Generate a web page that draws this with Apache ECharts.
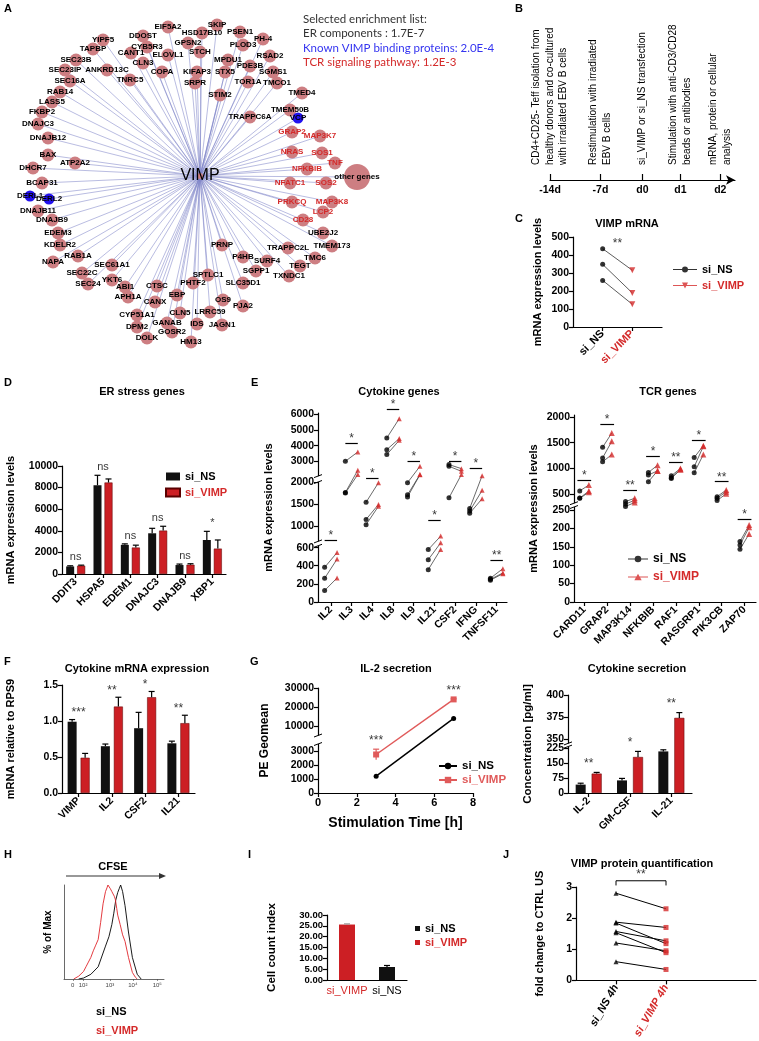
<!DOCTYPE html>
<html><head><meta charset="utf-8">
<script src="https://cdn.jsdelivr.net/npm/echarts@6.0.0/dist/echarts.min.js"></script>
<style>html,body{margin:0;padding:0;background:#fff}#c{width:759px;height:1041px}</style>
</head><body><div id="c"></div>
<script>
// ======================= DATA =======================
// A: network (layout units)
const netHub = ['VIMP', 200, 176];
const netER = [['YIPF5',103,40],['TAPBP',93,49],['SEC23B',76,60],['SEC23IP',65,70],['ANKRD13C',107,70],['SEC16A',70,81],['RAB14',60,92],['LASS5',52,102],['FKBP2',42,112],['DNAJC3',38,124],['DNAJB12',48,138],['BAX',48,155],['ATP2A2',75,163],['DHCR7',33,168],['BCAP31',42,183],['DNAJB11',38,211],['DNAJB9',52,220],['EDEM3',58,233],['KDELR2',60,245],['NAPA',53,262],['RAB1A',78,256],['SEC61A1',112,265],['SEC22C',82,273],['SEC24',88,284],['YKT6',112,280],['ABI1',125,287],['APH1A',128,297],['CTSC',157,286],['CANX',155,302],['EBP',177,295],['PHTF2',193,283],['SPTLC1',208,275],['CYP51A1',137,315],['CLN5',180,313],['DPM2',137,327],['GANAB',167,323],['GOSR2',172,332],['IDS',197,324],['DOLK',147,338],['HM13',191,342],['LRRC59',210,312],['OS9',223,300],['JAGN1',222,325],['PJA2',243,306],['SLC35D1',243,283],['SGPP1',256,271],['PRNP',222,245],['P4HB',243,257],['SURF4',267,261],['TXNDC1',289,276],['TEGT',300,266],['TMC6',315,258],['TRAPPC2L',288,248],['TMEM173',332,246],['UBE2J2',323,233],['CANT1',131,53],['DDOST',143,36],['CYB5R3',147,47],['CLN3',143,63],['TNRC5',130,80],['COPA',162,72],['ELOVL1',168,55],['EIF5A2',168,27],['GPSN2',188,43],['HSD17B10',202,33],['SKIP',217,25],['STCH',200,52],['KIFAP3',197,72],['SRPR',195,83],['STIM2',220,95],['MPDU1',228,60],['STX5',225,72],['PSEN1',240,32],['PH-4',263,39],['PLOD3',243,45],['RSAD2',270,56],['PDE3B',250,66],['SGMS1',273,72],['TOR1A',248,82],['TMCO1',277,83],['TMED4',302,93],['TRAPPC6A',250,117],['TMEM50B',290,110]];
const netKnown = [['DERL1',30,196],['DERL2',49,199],['VCP',298,118]];
const netTCR = [['GRAP2',292,132],['MAP3K7',320,136],['NRAS',292,152],['SOS1',322,153],['TNF',335,163],['NFKBIB',307,169],['NFATC1',290,183],['SOS2',326,183],['PRKCQ',292,202],['MAP3K8',332,202],['LCP2',323,212],['CD28',303,220]];
const netOther = ['other genes', 357, 177];
const enrichLines = ['Selected enrichment list:','ER components : 1.7E-7','Known VIMP binding proteins: 2.0E-4','TCR signaling pathway: 1.2E-3'];

// B: timeline
const bDays = ['-14d','-7d','d0','d1','d2'];
const bSteps = [['CD4+CD25- Teff isolation from','healthy donors and co-cultured','with irradiated EBV B cells'],['Restimulation with irradiated','EBV B cells'],['si_VIMP or si_NS transfection'],['Stimulation with anti-CD3/CD28','beads or antibodies'],['mRNA, protein or cellular','analysis']];

// C: VIMP mRNA (3 donors)
const cGroups = ['si_NS','si_VIMP'];
const cNS = [435, 348, 259];
const cVIMP = [315, 189, 126];
const cSig = '**';

// D: ER stress genes
const dCats = ['DDIT3','HSPA5','EDEM1','DNAJC3','DNAJB9','XBP1'];
const dNS = [700, 8220, 2700, 3770, 830, 3150];
const dNSsd = [60, 920, 90, 460, 90, 800];
const dVIMP = [770, 8470, 2450, 4020, 860, 2350];
const dVIMPsd = [50, 330, 220, 400, 90, 800];
const dSig = ['ns','ns','ns','ns','ns','*'];

// E: cytokine genes (3 donors each)
const eCats = ['IL2','IL3','IL4','IL8','IL9','IL21','CSF2','IFNG','TNFSF11'];
const eNS = [[382,262,127],[3000,1760,1750],[1540,1150,1030],[4500,3750,3430],[1985,1710,1660],[578,467,357],[2790,2680,1640],[1400,1340,1290],[262,250,240]];
const eVIMP = [[545,473,265],[3600,2430,2150],[1985,1490,1450],[5740,4460,4350],[2680,2150,2140],[770,640,580],[2530,2360,2150],[2080,1810,1620],[368,320,313]];
const eBar = [668, 4180, 2035, 6320, 3000, 1123, 3000, 2530, 460];
const eSig = ['*','*','*','*','*','*','*','*','**'];
const eTicks = [0,200,400,600,1000,1500,2000,3000,4000,5000,6000];

// E: TCR genes
const tCats = ['CARD11','GRAP2','MAP3K14','NFKBIB','RAF1','RASGRP1','PIK3CB','ZAP70'];
const tNS = [[560,420,415],[1410,1203,1126],[352,306,268],[919,868,739],[855,816,803],[1210,1029,913],[448,416,371],[164,155,143]];
const tVIMP = [[674,558,532],[1687,1526,1268],[416,377,332],[1061,952,950],[997,977,975],[1442,1429,1268],[577,545,506],[209,203,185]];
const tBar = [771, 1868, 577, 1229, 1126, 1545, 739, 224];
const tSig = ['*','*','**','*','**','*','**','*'];
const tTicks = [0,50,100,150,200,250,500,1000,1500,2000];

// F: cytokine mRNA relative to RPS9
const fCats = ['VIMP','IL2','CSF2','IL21'];
const fNS = [0.99, 0.65, 0.90, 0.69];
const fNSsd = [0.03, 0.03, 0.22, 0.03];
const fVIMP = [0.49, 1.20, 1.33, 0.97];
const fVIMPsd = [0.06, 0.13, 0.08, 0.11];
const fSig = ['***','**','*','**'];

// G: IL-2 secretion
const gTime = [3, 7];
const gNS = [1200, 14000];
const gVIMP = [2750, 24000];
const gVIMPsd = [380, 300];
const gSig = ['***','***'];
const gTicks = [0,1000,2000,3000,10000,20000,30000];

// G: cytokine secretion
const sCats = ['IL-2','GM-CSF','IL-21'];
const sNS = [42, 63, 208];
const sNSsd = [7, 10, 8];
const sVIMP = [97, 180, 374];
const sVIMPsd = [6, 28, 6];
const sSig = ['**','*','**'];
const sTicks = [0,75,150,225,350,375,400];

// H: CFSE histograms (channel, % of max)
const hTickCh = [90, 195, 470, 705, 955];
const hTickLab = ['0','10\u00b2','10\u00b3','10\u2074','10\u2075'];
const hVIMPx = [100,150,200,225,250,275,300,325,350,375,400,425,440,450,465,475,490,500,515,525,540,550,575,600,625,660,700,730,750];
const hVIMPy = [0,3,8,13,18,23,30,36,42,60,80,93,97,100,99,96,93,94,88,85,75,68,58,47,40,23,7,2,0];
const hNSx = [150,200,275,350,425,460,490,510,530,550,565,580,600,625,660,700,750,790];
const hNSy = [0,1,5,13,35,45,58,70,84,92,96,100,93,78,50,23,5,0];

// I: cell count index
const iCats = ['si_VIMP','si_NS'];
const iMean = [25.6, 6.0];
const iSd = [0.3, 0.7];

// J: VIMP protein quantification (paired)
const jGroups = ['si_NS 4h','si_VIMP 4h'];
const jNS = [2.80, 1.87, 1.84, 1.57, 1.53, 1.20, 0.60];
const jVIMP = [2.30, 1.70, 1.18, 1.27, 0.89, 0.95, 0.35];
const jBracket = 3.2;
const jSig = '**';

// ======================= LAYOUT / STYLE =======================
const FONT = "'Liberation Sans', Arial, Helvetica, sans-serif";
const PINK = '#cd7e82', BLUE = '#2211ee', RED = '#d42a2a', BARRED = '#cc1f24', GRED = '#e05a5a', EDGE = '#7d82c8';
const bTickPos = [0, 1.2, 2.2, 3.1, 4.05];
const eAnch = [[0,0],[620,56.2],[650,60.6],[2000,120],[2050,125.9],[6000,187.4]];
const tAnch = [[0,0],[258,95],[320,98.8],[2000,185]];
const gAnch = [[0,0],[3500,49],[5000,57.5],[30000,105]];
const sAnch = [[0,0],[232,46.4],[345,49.6],[400,98]];

const grid = [], xAxis = [], yAxis = [], series = [], legend = [], graphic = [];
function deep(a, b) { const o = Object.assign({}, a); for (const k in b) { const v = b[k]; if (v && typeof v === 'object' && !Array.isArray(v) && o[k] && typeof o[k] === 'object' && !Array.isArray(o[k])) o[k] = deep(o[k], v); else o[k] = v; } return o; }
function addGrid(r) { grid.push(r); return grid.length - 1; }
function addX(o) { xAxis.push(o); return xAxis.length - 1; }
function addY(o) { yAxis.push(o); return yAxis.length - 1; }
function ax(extra) { return deep({
  axisLine: { show: true, onZero: false, lineStyle: { color: '#000', width: 1.2 } },
  axisTick: { show: true, length: 4, lineStyle: { color: '#000', width: 1.2 } },
  axisLabel: { color: '#000', fontFamily: FONT, fontWeight: 'bold', fontSize: 10, margin: 4 },
  splitLine: { show: false },
  nameLocation: 'middle',
  nameTextStyle: { color: '#000', fontFamily: FONT, fontWeight: 'bold', fontSize: 11 }
}, extra); }
const plain = v => String(v);
function nearestIdx(arr, v) { let b = 0, bd = Infinity; arr.forEach((a, i) => { const d = Math.abs(a - v); if (d < bd) { bd = d; b = i; } }); return b; }
function pw(anch) { return v => { let i = 0; while (i < anch.length - 2 && v > anch[i + 1][0]) i++; const a = anch[i], b = anch[i + 1]; return a[1] + (v - a[0]) * (b[1] - a[1]) / (b[0] - a[0]); }; }
function brokenY(gi, anch, ticks, h, extra) {
  const f = pw(anch); const d = ticks.map(f);
  const idx = addY(ax(deep({ gridIndex: gi, type: 'value', min: 0, max: h,
    axisTick: { customValues: d }, axisLabel: { customValues: d, formatter: v => String(ticks[nearestIdx(d, v)]) } }, extra || {})));
  return { idx, f };
}
const ident = v => v;
function errSeries(xi, yi, xs, lo, hi, off, color) {
  series.push({ type: 'custom', xAxisIndex: xi, yAxisIndex: yi, z: 5, silent: true, clip: false,
    data: xs.map((x, i) => [x, lo[i], hi[i]]),
    renderItem: (p, api) => { const a = api.coord([api.value(0), api.value(1)]), b = api.coord([api.value(0), api.value(2)]); const x = a[0] + off;
      return { type: 'group', children: [
        { type: 'line', shape: { x1: x, y1: a[1], x2: x, y2: b[1] }, style: { stroke: color, lineWidth: 1.2 } },
        { type: 'line', shape: { x1: x - 3, y1: b[1], x2: x + 3, y2: b[1] }, style: { stroke: color, lineWidth: 1.2 } }] }; } });
}
function sigLabels(xi, yi, xs, ys, texts, dist, fs) {
  series.push({ type: 'scatter', xAxisIndex: xi, yAxisIndex: yi, silent: true, symbolSize: 1, clip: false,
    itemStyle: { color: 'rgba(0,0,0,0)' }, z: 6,
    data: xs.map((x, i) => ({ value: [x, ys[i]], label: { formatter: texts[i] } })),
    label: { show: true, position: 'top', distance: dist, color: '#000', fontFamily: FONT, fontSize: fs || 12 } });
}
function groupBars(xi, yi, names, ns, nsSd, vi, viSd, f, bw, gap) {
  const pct = (gap / bw * 100) + '%';
  series.push({ type: 'bar', name: names[0], xAxisIndex: xi, yAxisIndex: yi, data: ns.map(f), barWidth: bw, barGap: pct, itemStyle: { color: '#111' }, z: 2 });
  series.push({ type: 'bar', name: names[1], xAxisIndex: xi, yAxisIndex: yi, data: vi.map(f), barWidth: bw, barGap: pct, itemStyle: { color: BARRED, borderColor: '#5a0000', borderWidth: 0.5 }, z: 2 });
  const off = bw / 2 + gap / 2; const xs = ns.map((_, i) => i);
  errSeries(xi, yi, xs, ns.map(f), ns.map((v, i) => f(v + nsSd[i])), -off, '#000');
  errSeries(xi, yi, xs, vi.map(f), vi.map((v, i) => f(v + viSd[i])), off, '#000');
}
function pairs(xi, yi, nsList, viList, base, off, f, o) {
  const conn = [], ns = [], vi = [];
  nsList.forEach((arr, i) => arr.forEach((v, k) => { const a = [base + i - off, f(v)], b = [base + i + off, f(viList[i][k])]; conn.push({ coords: [a, b] }); ns.push(a); vi.push(b); }));
  series.push({ type: 'lines', coordinateSystem: 'cartesian2d', xAxisIndex: xi, yAxisIndex: yi, silent: true, z: 2, clip: false, data: conn, lineStyle: { color: o.lineColor || '#444', width: o.lineWidth || 0.8, opacity: 1 } });
  series.push({ type: 'scatter', name: o.nsName, xAxisIndex: xi, yAxisIndex: yi, z: 3, clip: false, data: ns, symbol: o.nsSymbol || 'circle', symbolSize: o.nsSize || 5, itemStyle: { color: '#000' } });
  series.push({ type: 'scatter', name: o.viName, xAxisIndex: xi, yAxisIndex: yi, z: 4, clip: false, data: vi, symbol: o.viSymbol || 'triangle', symbolRotate: o.viRotate || 0, symbolSize: o.viSize || 5, itemStyle: { color: o.viColor || RED } });
}
function sigBars(xi, yi, vals, half, f) {
  series.push({ type: 'lines', coordinateSystem: 'cartesian2d', xAxisIndex: xi, yAxisIndex: yi, silent: true, clip: false, z: 2,
    data: vals.map((v, i) => ({ coords: [[i - half, f(v)], [i + half, f(v)]] })), lineStyle: { color: '#000', width: 1.2, opacity: 1 } });
}
function txt(id, x, y, text, o) {
  graphic.push(Object.assign({ type: 'text', id, x, y, silent: true, z: 100,
    style: Object.assign({ text, fill: '#000', font: 'bold 11px ' + FONT, textAlign: 'center', textVerticalAlign: 'middle', align: 'center', verticalAlign: 'middle' }, o && o.style || {}) }, o && o.el || {}));
}
const legText = { fontFamily: FONT, fontWeight: 'bold', fontSize: 11, color: '#000' };
const ICON_DOT_LINE = 'path://M0,2.4H24V3.6H0Z M9,3A3,3,0,1,1,15,3A3,3,0,1,1,9,3Z';
const ICON_TRI_DOWN_LINE = 'path://M0,2.4H24V3.6H0Z M9,0H15L12,6Z';
const ICON_BIGDOT_LINE = 'path://M0,4.4H30V5.6H0Z M10,5A5,5,0,1,1,20,5A5,5,0,1,1,10,5Z';
const ICON_BIGTRI_LINE = 'path://M0,4.4H30V5.6H0Z M9.5,10L15,0L20.5,10Z';

// ---------- A: network ----------
const gA = addGrid({ left: 0, top: 0, width: 440, height: 350 });
const xA = addX({ gridIndex: gA, type: 'value', min: 0, max: 440, show: false });
const yA = addY({ gridIndex: gA, type: 'value', min: 0, max: 350, inverse: true, show: false });
const nodes = [{ name: netHub[0], value: [netHub[1], netHub[2]], symbolSize: 6, label: { fontSize: 16, fontWeight: 'normal' } }];
netER.forEach(n => nodes.push({ name: n[0], value: [n[1], n[2]] }));
netKnown.forEach(n => nodes.push({ name: n[0], value: [n[1], n[2]], symbolSize: 11, itemStyle: { color: BLUE } }));
netTCR.forEach(n => nodes.push({ name: n[0], value: [n[1], n[2]], label: { color: RED } }));
nodes.push({ name: netOther[0], value: [netOther[1], netOther[2]], symbolSize: 26 });
series.push({ type: 'graph', coordinateSystem: 'cartesian2d', xAxisIndex: xA, yAxisIndex: yA, layout: 'none', silent: true, z: 2,
  symbolSize: 13, itemStyle: { color: PINK }, data: nodes,
  links: nodes.slice(1).map(n => ({ source: netHub[0], target: n.name })),
  lineStyle: { color: EDGE, width: 0.6, opacity: 0.9 },
  label: { show: true, position: 'inside', fontFamily: FONT, fontSize: 8, fontWeight: 'bold', color: '#000' } });
const enrichColors = ['#333', '#333', '#3434f0', '#d42a2a'];
enrichLines.forEach((t, i) => txt('en' + i, 303, 19 + i * 14.5, t, { style: { textAlign: 'left', align: 'left', fill: enrichColors[i], font: '11.5px Lato, ' + FONT } }));

// ---------- B: timeline ----------
const gB = addGrid({ left: 550, top: 170, width: 185, height: 10 });
const xB = addX(ax({ gridIndex: gB, type: 'value', min: 0, max: 4.4, position: 'bottom',
  axisLine: { symbol: ['none', 'arrow'], symbolSize: [7, 9] },
  axisTick: { inside: true, length: 6, customValues: bTickPos },
  axisLabel: { customValues: bTickPos, formatter: v => bDays[nearestIdx(bTickPos, v)], fontSize: 10.5, margin: 5 } }));
const yB = addY({ gridIndex: gB, type: 'value', min: 0, max: 1, show: false });

// ---------- C ----------
const gC = addGrid({ left: 573, top: 237, width: 89, height: 90 });
const xC = addX(ax({ gridIndex: gC, type: 'value', min: 0, max: 3, axisTick: { customValues: [1, 2] },
  axisLabel: { customValues: [1, 2], rotate: 45, fontSize: 11, margin: 5, formatter: v => Math.round(v) === 1 ? '{n|' + cGroups[0] + '}' : '{v|' + cGroups[1] + '}',
    rich: { n: { color: '#000', fontWeight: 'bold', fontSize: 11, fontFamily: FONT }, v: { color: RED, fontWeight: 'bold', fontSize: 11, fontFamily: FONT } } } }));
const yC = addY(ax({ gridIndex: gC, type: 'value', min: 0, max: 500, interval: 100, name: 'mRNA expression levels', nameGap: 30, axisLabel: { fontSize: 10.5, formatter: plain } }));
pairs(xC, yC, [cNS], [cVIMP], 1.5, 0.5, ident, { nsName: 'C:si_NS', viName: 'C:si_VIMP', viRotate: 180, viSize: 6, lineColor: '#333' });
sigLabels(xC, yC, [1.5], [Math.max(...cNS)], [cSig], -1, 12);
legend.push({ left: 668, top: 259, orient: 'vertical', itemGap: 5, itemWidth: 24, itemHeight: 6, selectedMode: false, textStyle: legText,
  formatter: n => n.split(':')[1],
  data: [{ name: 'C:si_NS', icon: ICON_DOT_LINE }, { name: 'C:si_VIMP', icon: ICON_TRI_DOWN_LINE, textStyle: { color: RED } }] });

// ---------- D ----------
const gD = addGrid({ left: 62, top: 466, width: 164, height: 108 });
const xD = addX(ax({ gridIndex: gD, type: 'category', data: dCats, axisTick: { alignWithLabel: true }, axisLabel: { rotate: 45, interval: 0, fontSize: 10.5, margin: 6 } }));
const yD = addY(ax({ gridIndex: gD, type: 'value', min: 0, max: 10000, interval: 2000, name: 'mRNA expression levels', nameGap: 46, axisLabel: { fontSize: 10.5, formatter: plain } }));
groupBars(xD, yD, ['D:si_NS', 'D:si_VIMP'], dNS, dNSsd, dVIMP, dVIMPsd, ident, 8, 3);
sigLabels(xD, yD, dCats.map((_, i) => i), dCats.map((_, i) => Math.max(dNS[i] + dNSsd[i], dVIMP[i] + dVIMPsd[i])), dSig, 2, 11);
legend.push({ left: 160, top: 466, orient: 'vertical', itemGap: 5, itemWidth: 14, itemHeight: 8, selectedMode: false, textStyle: legText,
  formatter: n => n.split(':')[1], data: [{ name: 'D:si_NS', icon: 'rect' }, { name: 'D:si_VIMP', icon: 'rect', textStyle: { color: RED } }] });

// ---------- E cytokine ----------
const gE = addGrid({ left: 318, top: 413, width: 189, height: 189 });
const xE = addX(ax({ gridIndex: gE, type: 'value', min: -0.62, max: 8.5, axisTick: { customValues: eCats.map((_, i) => i) },
  axisLabel: { customValues: eCats.map((_, i) => i), formatter: v => eCats[Math.round(v)], rotate: 45, fontSize: 10.5, margin: 6 } }));
const yE = brokenY(gE, eAnch, eTicks, 189, { name: 'mRNA expression levels', nameGap: 44, axisLabel: { fontSize: 10.5 } });
sigBars(xE, yE.idx, eBar, 0.3, yE.f);
pairs(xE, yE.idx, eNS, eVIMP, 0, 0.3, yE.f, { nsName: 'E:si_NS', viName: 'E:si_VIMP', nsSize: 5, viSize: 5 });
sigLabels(xE, yE.idx, eCats.map((_, i) => i), eBar.map(yE.f), eSig, -2, 12);

// ---------- E TCR ----------
const gT = addGrid({ left: 574, top: 415, width: 182, height: 187 });
const xT = addX(ax({ gridIndex: gT, type: 'value', min: -0.45, max: 7.5, axisTick: { customValues: tCats.map((_, i) => i) },
  axisLabel: { customValues: tCats.map((_, i) => i), formatter: v => tCats[Math.round(v)], rotate: 45, fontSize: 10.5, margin: 6 } }));
const yT = brokenY(gT, tAnch, tTicks, 187, { name: 'mRNA expression levels', nameGap: 35, axisLabel: { fontSize: 10.5 } });
sigBars(xT, yT.idx, tBar, 0.3, yT.f);
pairs(xT, yT.idx, tNS, tVIMP, 0, 0.2, yT.f, { nsName: 'T:si_NS', viName: 'T:si_VIMP', nsSize: 5, viSize: 6 });
sigLabels(xT, yT.idx, tCats.map((_, i) => i), tBar.map(yT.f), tSig, -2, 12);
legend.push({ left: 623, top: 548, orient: 'vertical', itemGap: 6, itemWidth: 20, itemHeight: 8, selectedMode: false,
  textStyle: deep(legText, { fontSize: 12 }), formatter: n => n.split(':')[1],
  data: [{ name: 'T:si_NS', icon: ICON_BIGDOT_LINE }, { name: 'T:si_VIMP', icon: ICON_BIGTRI_LINE, textStyle: { color: RED } }] });

// ---------- F ----------
const gF = addGrid({ left: 62, top: 685, width: 133, height: 108 });
const xF = addX(ax({ gridIndex: gF, type: 'category', data: fCats, axisTick: { alignWithLabel: true }, axisLabel: { rotate: 45, interval: 0, fontSize: 10.5, margin: 6 } }));
const yF = addY(ax({ gridIndex: gF, type: 'value', min: 0, max: 1.5, interval: 0.5, name: 'mRNA relative to RPS9', nameGap: 46, axisLabel: { fontSize: 10.5, formatter: v => v.toFixed(1) } }));
groupBars(xF, yF, ['F:si_NS', 'F:si_VIMP'], fNS, fNSsd, fVIMP, fVIMPsd, ident, 9, 4);
sigLabels(xF, yF, fCats.map((_, i) => i), fCats.map((_, i) => Math.max(fNS[i] + fNSsd[i], fVIMP[i] + fVIMPsd[i])), fSig, 0, 12);

// ---------- G IL-2 ----------
const gG = addGrid({ left: 318, top: 688, width: 155, height: 105 });
const xG = addX(ax({ gridIndex: gG, type: 'value', min: 0, max: 8, interval: 2, name: 'Stimulation Time [h]', nameGap: 23,
  nameTextStyle: { fontSize: 14 }, axisLabel: { fontSize: 11 } }));
const yG = brokenY(gG, gAnch, gTicks, 105, { name: 'PE Geomean', nameGap: 47, nameTextStyle: { fontSize: 12 }, axisLabel: { fontSize: 10.5 } });
series.push({ type: 'line', name: 'G:si_NS', xAxisIndex: xG, yAxisIndex: yG.idx, clip: false, z: 3, data: gTime.map((t, i) => [t, yG.f(gNS[i])]),
  symbol: 'circle', symbolSize: 5, itemStyle: { color: '#000' }, lineStyle: { color: '#000', width: 1.5 } });
series.push({ type: 'line', name: 'G:si_VIMP', xAxisIndex: xG, yAxisIndex: yG.idx, clip: false, z: 3, data: gTime.map((t, i) => [t, yG.f(gVIMP[i])]),
  symbol: 'rect', symbolSize: 6, itemStyle: { color: GRED }, lineStyle: { color: GRED, width: 1.5 } });
errSeries(xG, yG.idx, gTime, gVIMP.map((v, i) => yG.f(v - gVIMPsd[i])), gVIMP.map((v, i) => yG.f(v + gVIMPsd[i])), 0, GRED);
sigLabels(xG, yG.idx, gTime, gVIMP.map((v, i) => yG.f(v + gVIMPsd[i])), gSig, 2, 12);
legend.push({ left: 433, top: 755, orient: 'vertical', itemGap: 2, itemWidth: 18, itemHeight: 8, selectedMode: false, textStyle: deep(legText, { fontSize: 11.5 }),
  formatter: n => n.split(':')[1], data: [{ name: 'G:si_NS' }, { name: 'G:si_VIMP', textStyle: { color: GRED } }] });

// ---------- G cytokine secretion ----------
const gS = addGrid({ left: 568, top: 695, width: 124, height: 98 });
const xS = addX(ax({ gridIndex: gS, type: 'category', data: sCats, axisTick: { alignWithLabel: true }, axisLabel: { rotate: 45, interval: 0, fontSize: 10.5, margin: 6 } }));
const yS = brokenY(gS, sAnch, sTicks, 98, { name: 'Concentration [pg/ml]', nameGap: 34, nameTextStyle: { fontSize: 11.5 }, axisLabel: { fontSize: 10.5 } });
groupBars(xS, yS.idx, ['S:si_NS', 'S:si_VIMP'], sNS, sNSsd, sVIMP, sVIMPsd, yS.f, 10, 6);
sigLabels(xS, yS.idx, sCats.map((_, i) => i), sCats.map((_, i) => yS.f(Math.max(sNS[i] + sNSsd[i], sVIMP[i] + sVIMPsd[i]))), sSig, 2, 12);

// ---------- H ----------
const gH = addGrid({ left: 64, top: 885, width: 100, height: 94 });
const xH = addX(ax({ gridIndex: gH, type: 'value', min: 0, max: 1024, axisLine: { lineStyle: { width: 0.8, color: '#444' } },
  axisTick: { customValues: hTickCh, length: 2, lineStyle: { width: 0.6, color: '#444' } },
  axisLabel: { customValues: hTickCh, formatter: v => hTickLab[nearestIdx(hTickCh, v)], fontSize: 6, fontWeight: 'normal', color: '#444', margin: 3 } }));
const yH = addY(ax({ gridIndex: gH, type: 'value', min: 0, max: 100, name: '% of Max', nameGap: 11, nameTextStyle: { fontSize: 10 },
  axisLine: { lineStyle: { width: 0.8, color: '#444' } }, axisTick: { show: false }, axisLabel: { show: false } }));
series.push({ type: 'line', name: 'H:si_NS', xAxisIndex: xH, yAxisIndex: yH, showSymbol: false, symbol: 'none', z: 3, data: hNSx.map((x, i) => [x, hNSy[i]]), lineStyle: { color: '#000', width: 0.9 } });
series.push({ type: 'line', name: 'H:si_VIMP', xAxisIndex: xH, yAxisIndex: yH, showSymbol: false, symbol: 'none', z: 3, data: hVIMPx.map((x, i) => [x, hVIMPy[i]]), lineStyle: { color: '#e0252a', width: 0.9 } });

// ---------- I ----------
const gI = addGrid({ left: 327, top: 915, width: 80, height: 65 });
const xI = addX(ax({ gridIndex: gI, type: 'category', data: iCats, axisTick: { show: false },
  axisLabel: { interval: 0, fontSize: 11, fontWeight: 'normal', margin: 5, formatter: v => v === 'si_VIMP' ? '{v|si_VIMP}' : '{n|si_NS}',
    rich: { v: { color: RED, fontSize: 11, fontFamily: FONT }, n: { color: '#000', fontSize: 11, fontFamily: FONT } } } }));
const yI = addY(ax({ gridIndex: gI, type: 'value', min: 0, max: 30, interval: 5, name: 'Cell count index', nameGap: 49, nameTextStyle: { fontSize: 11.5 },
  axisLabel: { fontSize: 9.5, formatter: v => v.toFixed(2) } }));
series.push({ type: 'bar', name: 'I:si_VIMP', stack: 'i', xAxisIndex: xI, yAxisIndex: yI, barWidth: 16, data: [iMean[0], '-'], itemStyle: { color: BARRED } });
series.push({ type: 'bar', name: 'I:si_NS', stack: 'i', xAxisIndex: xI, yAxisIndex: yI, barWidth: 16, data: ['-', iMean[1]], itemStyle: { color: '#111' } });
errSeries(xI, yI, [0], [iMean[0]], [iMean[0] + iSd[0]], 0, '#999');
errSeries(xI, yI, [1], [iMean[1]], [iMean[1] + iSd[1]], 0, '#000');
legend.push({ left: 410, top: 918, orient: 'vertical', itemGap: 3, itemWidth: 5, itemHeight: 5, selectedMode: false, textStyle: legText,
  formatter: n => n.split(':')[1], data: [{ name: 'I:si_NS', icon: 'rect' }, { name: 'I:si_VIMP', icon: 'rect', textStyle: { color: RED } }] });

// ---------- J ----------
const gJ = addGrid({ left: 576, top: 887, width: 180, height: 95 });
const xJ = addX(ax({ gridIndex: gJ, type: 'value', min: -0.8, max: 2.8, axisTick: { customValues: [0, 1] },
  axisLabel: { customValues: [0, 1], rotate: 60, margin: 5, formatter: v => Math.round(v) === 0 ? '{n|' + jGroups[0] + '}' : '{v|' + jGroups[1] + '}',
    rich: { n: { color: '#000', fontWeight: 'bold', fontStyle: 'italic', fontSize: 11, fontFamily: FONT }, v: { color: RED, fontWeight: 'bold', fontStyle: 'italic', fontSize: 11, fontFamily: FONT } } } }));
const yJ = addY(ax({ gridIndex: gJ, type: 'value', min: 0, max: 3, interval: 1, name: 'fold change to CTRL US', nameGap: 31, axisLabel: { fontSize: 10.5 } }));
pairs(xJ, yJ, [jNS], [jVIMP], 0.5, 0.5, ident, { nsName: 'J:si_NS', viName: 'J:si_VIMP', nsSymbol: 'triangle', nsSize: 5, viSymbol: 'rect', viSize: 5, lineColor: '#000', lineWidth: 1 });
series.push({ type: 'lines', coordinateSystem: 'cartesian2d', polyline: true, xAxisIndex: xJ, yAxisIndex: yJ, silent: true, clip: false,
  data: [{ coords: [[0, jBracket - 0.15], [0, jBracket], [1, jBracket], [1, jBracket - 0.15]] }], lineStyle: { color: '#000', width: 1, opacity: 1 } });
sigLabels(xJ, yJ, [0.5], [jBracket], [jSig], 0, 12);

// ---------- text: letters & titles ----------
[['A', 4, 9], ['B', 515, 9], ['C', 515, 219], ['D', 4, 383], ['E', 251, 383], ['F', 4, 662], ['G', 250, 662], ['H', 4, 855], ['I', 248, 855], ['J', 503, 855]]
  .forEach(l => txt('L' + l[0], l[1], l[2], l[0], { style: { textAlign: 'left', align: 'left', font: 'bold 11px ' + FONT } }));
[['VIMP mRNA', 627, 224], ['ER stress genes', 142, 392], ['Cytokine genes', 399, 392], ['TCR genes', 668, 392], ['Cytokine mRNA expression', 137, 669],
 ['IL-2 secretion', 396, 669], ['Cytokine secretion', 637, 669], ['VIMP protein quantification', 642, 864], ['CFSE', 113, 867]]
  .forEach((t, i) => txt('T' + i, t[1], t[2], t[0]));
txt('hNS', 96, 1012, 'si_NS', { style: { textAlign: 'left', align: 'left' } });
txt('hVI', 96, 1031, 'si_VIMP', { style: { textAlign: 'left', align: 'left', fill: RED } });
graphic.push({ type: 'line', id: 'arrL', silent: true, shape: { x1: 66, y1: 876, x2: 160, y2: 876 }, style: { stroke: '#333', lineWidth: 1.2 } });
graphic.push({ type: 'polygon', id: 'arrH', silent: true, shape: { points: [[159, 873], [166, 876], [159, 879]] }, style: { fill: '#333' } });

const chart = echarts.init(document.getElementById('c'), null, { renderer: 'canvas', width: 759, height: 1041 });
chart.setOption({ animation: false, backgroundColor: '#fff', textStyle: { fontFamily: FONT }, grid, xAxis, yAxis, series, legend });

// ---------- post: timeline texts & axis breaks via the chart's own scales ----------
bSteps.forEach((lines, i) => {
  const cx = chart.convertToPixel({ xAxisIndex: xB }, bTickPos[i]);
  lines.forEach((t, j) => txt('b' + i + '_' + j, cx + (j - (lines.length - 1) / 2) * 13.5, 165, t,
    { style: { textAlign: 'left', align: 'left', font: '10px ' + FONT }, el: { rotation: Math.PI / 2 } }));
});
const breaks = [[yE, 318, 620, 650], [yE, 318, 2000, 2050], [yT, 574, 258, 320], [yG, 318, 3500, 5000], [yS, 568, 232, 345]];
breaks.forEach((b, k) => {
  const pLo = chart.convertToPixel({ yAxisIndex: b[0].idx }, b[0].f(b[2]));
  const pHi = chart.convertToPixel({ yAxisIndex: b[0].idx }, b[0].f(b[3]));
  const x = b[1];
  graphic.push({ type: 'rect', id: 'brk' + k, silent: true, z: 90, shape: { x: x - 4, y: pHi, width: 8, height: Math.max(2, pLo - pHi) }, style: { fill: '#fff' } });
  [pLo, pHi].forEach((p, q) => graphic.push({ type: 'line', id: 'brkl' + k + '_' + q, silent: true, z: 91, shape: { x1: x - 4, y1: p + 1.5, x2: x + 4, y2: p - 1.5 }, style: { stroke: '#000', lineWidth: 1 } }));
});
chart.setOption({ graphic });
</script></body></html>
